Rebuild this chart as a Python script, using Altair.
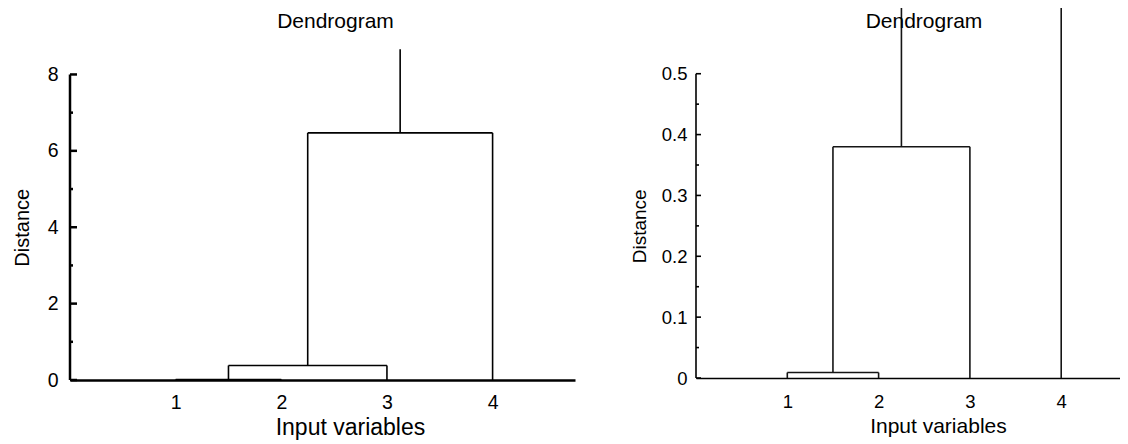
import altair as alt
import pandas as pd

# ---- data ----
leaves = [1, 2, 3, 4]
merge_a = [1, 5, 6]          # cluster ids (5 = first merge, 6 = second merge)
merge_b = [2, 3, 4]
merge_height = [0.009, 0.38, 6.47]
root_top = 8.66

x_tick_labels = [1, 2, 3, 4]
left_major = [0, 2, 4, 6, 8]
left_minor = [1, 3, 5, 7]
right_major = [0, 0.1, 0.2, 0.3, 0.4, 0.5]
right_minor = [0.05, 0.15, 0.25, 0.35, 0.45]

FONT = "Liberation Sans"


def segments():
    pos = {l: float(l) for l in leaves}
    hgt = {l: 0.0 for l in leaves}
    rows = []
    nid = len(leaves) + 1
    for a, b, h in zip(merge_a, merge_b, merge_height):
        rows.append(dict(x=pos[a], x2=pos[a], y=hgt[a], y2=h))
        rows.append(dict(x=pos[b], x2=pos[b], y=hgt[b], y2=h))
        rows.append(dict(x=pos[a], x2=pos[b], y=h, y2=h))
        pos[nid] = (pos[a] + pos[b]) / 2
        hgt[nid] = h
        nid += 1
    root = nid - 1
    rows.append(dict(x=pos[root], x2=pos[root], y=hgt[root], y2=root_top))
    return pd.DataFrame(rows)


def panel(width, height, xmax, ymax, major, minor, major_len, minor_len,
          axis_w, line_w, label_fs, xtitle_fs, ytitle_fs, title_fs,
          xlab_pad, ylab_pad, xtitle_y, ytitle_x, title_dx, title_off,
          color, yfmt):
    seg = segments()
    xs = alt.Scale(domain=[0, xmax], nice=False, zero=False)
    ys = alt.Scale(domain=[0, ymax], nice=False, zero=False)
    per_unit = width / xmax
    ytitle_y = height * (1 - (major[-1] / 2) / ymax)

    xaxis = alt.Axis(values=x_tick_labels, title="Input variables", ticks=False,
                     grid=False, domainColor="black", domainWidth=axis_w,
                     labelPadding=xlab_pad, labelFontSize=label_fs,
                     labelColor="black", labelFlush=False,
                     titleFontSize=xtitle_fs, titleFontWeight="normal",
                     titleColor="black", titleX=2.65 * per_unit, titleY=xtitle_y,
                     titleBaseline="middle", titleAlign="center")
    yaxis = alt.Axis(values=major, title="Distance", domain=False, ticks=False,
                     grid=False, labelPadding=ylab_pad, labelFontSize=label_fs,
                     labelColor="black", labelFlush=False, format=yfmt,
                     titleFontSize=ytitle_fs, titleFontWeight="normal",
                     titleColor="black", titleX=ytitle_x, titleY=ytitle_y,
                     titleAngle=270, titleBaseline="middle", titleAlign="center")

    dend = alt.Chart(seg).mark_rule(strokeWidth=line_w, color=color, clip=True).encode(
        x=alt.X("x:Q", scale=xs, axis=xaxis),
        x2="x2:Q",
        y=alt.Y("y:Q", scale=ys, axis=yaxis),
        y2="y2:Q",
    )
    axis_line = alt.Chart(pd.DataFrame({"y": [major[0]], "y2": [major[-1]]})).mark_rule(
        strokeWidth=axis_w, color="black").encode(
        x=alt.value(0),
        y=alt.Y("y:Q", scale=ys, axis=yaxis),
        y2="y2:Q",
    )
    maj = alt.Chart(pd.DataFrame({"y": major})).mark_rule(
        strokeWidth=axis_w, color="black").encode(
        x=alt.value(0), x2=alt.value(major_len),
        y=alt.Y("y:Q", scale=ys, axis=yaxis),
    )
    mnr = alt.Chart(pd.DataFrame({"y": minor})).mark_rule(
        strokeWidth=axis_w, color="black").encode(
        x=alt.value(0), x2=alt.value(minor_len),
        y=alt.Y("y:Q", scale=ys, axis=yaxis),
    )
    return alt.layer(dend, axis_line, maj, mnr).properties(
        width=width, height=height,
        title=alt.TitleParams("Dendrogram", fontSize=title_fs, fontWeight="normal",
                              color="black", anchor="middle", frame="group",
                              baseline="top", offset=title_off, dx=title_dx),
    )


left = panel(width=505, height=372, xmax=4.78, ymax=9.74,
             major=left_major, minor=left_minor, major_len=7, minor_len=3,
             axis_w=2.5, line_w=1.6, label_fs=19.5, xtitle_fs=23, ytitle_fs=20,
             title_fs=21, xlab_pad=13, ylab_pad=12, xtitle_y=47.5,
             ytitle_x=-47.5, title_dx=13, title_off=-24, color="black",
             yfmt="~g")
right = panel(width=424, height=370, xmax=4.644, ymax=0.608,
              major=right_major, minor=right_minor, major_len=5, minor_len=3,
              axis_w=1.6, line_w=1.6, label_fs=18.5, xtitle_fs=21, ytitle_fs=19,
              title_fs=21, xlab_pad=14, ylab_pad=9, xtitle_y=48.5,
              ytitle_x=-57, title_dx=16, title_off=-24, color="#151515",
              yfmt="~g")

chart = alt.HConcatChart(hconcat=[left, right], spacing=121, bounds="flush").properties(
    padding={"left": 4, "top": 0, "right": 0, "bottom": 0}
).configure(font=FONT).configure_view(stroke=None)

chart.save("out.html", embed_options={"renderer": "svg", "actions": False})
